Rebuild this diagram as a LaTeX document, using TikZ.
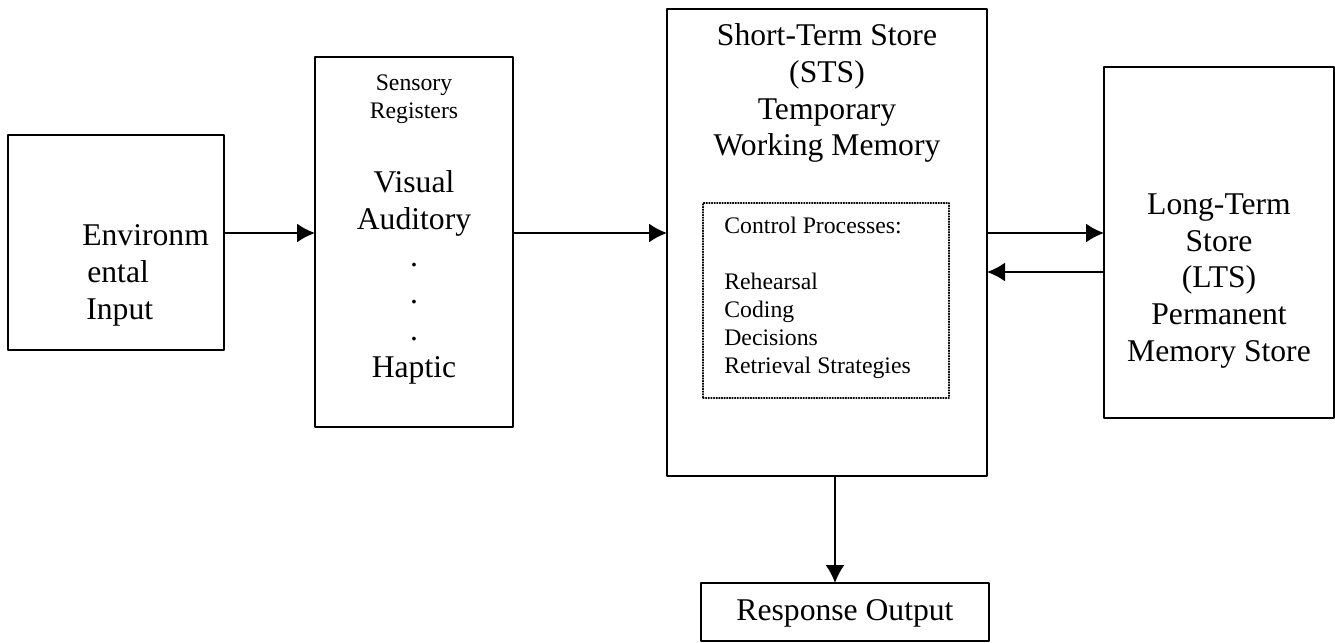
\documentclass[tikz,border=0pt]{standalone}
\usepackage{fontspec}
\setmainfont{Liberation Serif}
\usepackage{tikz}
\usetikzlibrary{arrows.meta}
\usetikzlibrary{positioning}

\newcommand{\bigtext}{\fontsize{18}{21}\selectfont}
\newcommand{\smalltext}{\fontsize{13.5}{15.9}\selectfont}

\begin{document}
\begin{tikzpicture}[line cap=round,line join=round, x=1cm,y=1cm,
  box/.style={draw, line width=1.1pt, inner sep=0pt, outer sep=0pt},
  dotbox/.style={draw, line width=0.6pt, dash pattern=on 0.6pt off 0.9pt, inner sep=0pt, outer sep=0pt},
  boxtext/.style={inner sep=0pt, align=center, font=\bigtext},
  smalltext/.style={inner sep=0pt, align=center, font=\smalltext},
  arr/.style={line width=1.1pt, -{Latex[length=0.36cm, width=0.38cm]}}]
\useasboundingbox (0,0) rectangle (26.7,-12.84);
% boxes
\node[box, minimum width=4.32cm, minimum height=4.30cm] (env) at (2.32,-4.85) {};
\node[box, minimum width=3.96cm, minimum height=7.40cm] (sens) at (8.28,-4.84) {};
\node[box, minimum width=6.40cm, minimum height=9.34cm] (sts) at (16.54,-4.85) {};
\node[dotbox, minimum width=4.92cm, minimum height=3.90cm] (ctrl) at (16.52,-6.01) {};
\node[box, minimum width=4.60cm, minimum height=7.02cm] (lts) at (24.38,-4.85) {};
\node[box, minimum width=5.76cm, minimum height=1.16cm] (resp) at (16.90,-12.24) {};
% texts
\node[boxtext, align=left, anchor=west] (envtext) at (1.64,-5.50) {Environm\\\hspace*{0.1cm}ental\\\hspace*{0.08cm}Input};
\node[smalltext] (senstitle) at (8.28,-1.98) {Sensory\\Registers};
\node[boxtext] (senstext) at (8.28,-5.55) {Visual\\Auditory\\.\\.\\.\\Haptic};
\node[boxtext] (ststext) at (16.54,-1.86) {Short-Term Store\\(STS)\\Temporary\\Working Memory};
\node[smalltext, align=left, anchor=west] (ctrltext) at (14.48,-5.96) {Control Processes:\\[15.9pt]Rehearsal\\Coding\\Decisions\\Retrieval Strategies};
\node[boxtext] (ltstext) at (24.38,-5.62) {Long-Term\\Store\\(LTS)\\Permanent\\Memory Store};
\node[boxtext] (resptext) at (16.90,-12.26) {Response Output};
% arrows
\draw[arr] ([yshift=0.19cm]env.east) -- ([yshift=0.18cm]sens.west);
\draw[arr] ([yshift=0.18cm]sens.east) -- ([yshift=0.19cm]sts.west);
\draw[arr] ([yshift=0.19cm]sts.east) -- ([yshift=0.19cm]lts.west);
\draw[arr] ([yshift=-0.59cm]lts.west) -- ([yshift=-0.59cm]sts.east);
\draw[arr] ([xshift=0.16cm]sts.south) -- ([xshift=-0.20cm]resp.north);
\end{tikzpicture}
\end{document}
